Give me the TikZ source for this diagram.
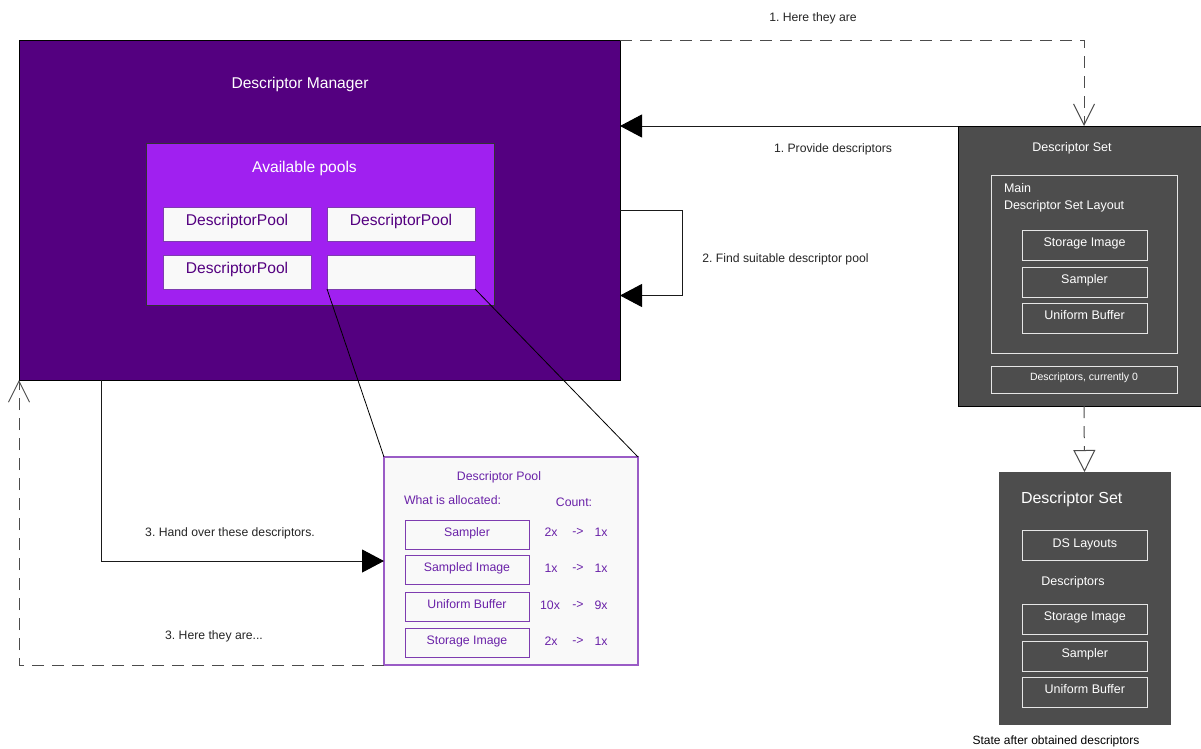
\documentclass[tikz,border=0pt]{standalone}
\usepackage{fontspec}
\setmainfont{Liberation Sans}
\usetikzlibrary{arrows.meta,calc}
\definecolor{mgrfill}{HTML}{540080}
\definecolor{poolsfill}{HTML}{A020F0}
\definecolor{boxfill}{HTML}{F9F9F9}
\definecolor{ptext}{HTML}{540080}
\definecolor{dtext}{HTML}{6A22A8}
\definecolor{dborder}{HTML}{9A5CC6}
\definecolor{dinner}{HTML}{7E3CB0}
\definecolor{setfill}{HTML}{4D4D4D}
\definecolor{setline}{HTML}{E6E6E6}
\definecolor{lnk}{HTML}{1A1A1A}
\newcommand\fsz[1]{\fontsize{#1}{#1}\selectfont}
\frenchspacing
\begin{document}
\begin{tikzpicture}[x=1pt,y=-1pt,
  every node/.style={inner sep=0pt,outer sep=0pt},
  box/.style={draw,rectangle,inner sep=0pt},
  wt/.style={text=white},
  lbl/.style={font=\fsz{12.2},text=black!85},
  pbox/.style={box,fill=boxfill,draw=dinner,line width=0.8pt,minimum width=148pt,minimum height=34pt,
     text=ptext,font=\fsz{15.6},text height=11pt,text depth=8pt},
  dbox/.style={box,draw=dinner,line width=1pt,minimum width=124pt,minimum height=29pt,
     text=dtext,font=\fsz{12.3},text height=9pt,text depth=6pt},
  dt/.style={text=dtext,font=\fsz{12.3}},
  sbox/.style={box,draw=setline,line width=0.9pt,minimum width=125pt,minimum height=30pt,
     text=white,font=\fsz{12.5},text height=9pt,text depth=6pt},
  conn/.style={draw=lnk,line width=1pt},
  dconn/.style={draw=black!70,line width=1pt,dash pattern=on 12pt off 8pt},
  fullhead/.style={-{Triangle[length=22pt,width=23pt,color=black]}},
  vhead/.style={-{Straight Barb[length=21pt,width=21pt,line width=1pt]}}
]
\useasboundingbox (0,0) rectangle (1201,748);
\fill[white] (0,0) rectangle (1201,748);

% Descriptor Manager
\node[box,fill=mgrfill,draw=black,line width=1pt,minimum width=601pt,minimum height=340pt] (mgr) at (319.5,210) {};
\node[wt,font=\fsz{15.6}] (mgrlabel) at (300,84) {Descriptor Manager};
\node[box,fill=poolsfill,draw=black!80,line width=1pt,minimum width=348pt,minimum height=162pt] (pools) at (320,224) {};
\node[wt,font=\fsz{15.6}] (poolslabel) at (304.5,168) {Available pools};
\node[pbox] (p1) at (237,224) {DescriptorPool};
\node[pbox] (p2) at (401,224) {DescriptorPool};
\node[pbox] (p3) at (237,272) {DescriptorPool};
\node[pbox] (p4) at (401,272) {};

% Descriptor Pool detail
\node[box,fill=boxfill,draw=dborder,line width=1.5pt,minimum width=254pt,minimum height=208pt] (pool) at (511,561) {};
\node[dt] (pooltitle) at (499,477) {Descriptor Pool};
\node[dt,anchor=west] (alloc) at (404,500) {What is allocated:};
\node[dt] (count) at (574,502) {Count:};
\node[dbox] (d1) at (467,534.5) {Sampler};
\node[dbox] (d2) at (467,570) {Sampled Image};
\node[dbox] (d3) at (467,606.5) {Uniform Buffer};
\node[dbox] (d4) at (467,642.5) {Storage Image};
\node[dt] (c1a) at (551,532) {2x};  \node[dt] (c1b) at (578,532) {->}; \node[dt] (c1c) at (601,532) {1x};
\node[dt] (c2a) at (551,568) {1x};  \node[dt] (c2b) at (578,568) {->}; \node[dt] (c2c) at (601,568) {1x};
\node[dt] (c3a) at (550,605) {10x}; \node[dt] (c3b) at (578,605) {->}; \node[dt] (c3c) at (601,605) {9x};
\node[dt] (c4a) at (551,641) {2x};  \node[dt] (c4b) at (578,641) {->}; \node[dt] (c4c) at (601,641) {1x};

% zoom lines
\draw[black,line width=0.8pt] (p4.south west) -- (pool.north west);
\draw[black,line width=0.8pt] (p4.south east) -- (pool.north east);

% Descriptor Set (top)
\node[box,fill=setfill,draw=black,line width=1pt,minimum width=252pt,minimum height=280pt] (set) at (1084,266) {};
\node[wt,font=\fsz{12.5}] (settitle) at (1072,148) {Descriptor Set};
\node[box,draw=setline,line width=0.9pt,minimum width=186pt,minimum height=178pt] (layout) at (1084,264) {};
\node[wt,font=\fsz{12.5},anchor=west] (mainl) at (1004,188) {Main};
\node[wt,font=\fsz{12.5},anchor=west] (dsl) at (1004,206) {Descriptor Set Layout};
\node[sbox] (s1) at (1084.5,245) {Storage Image};
\node[sbox] (s2) at (1084.5,282) {Sampler};
\node[sbox] (s3) at (1084.5,318) {Uniform Buffer};
\node[box,draw=setline,line width=0.9pt,minimum width=186pt,minimum height=27pt,text=white,font=\fsz{10.5},text height=7.5pt,text depth=5pt] (cur) at (1084,379.5) {Descriptors, currently 0};

% Descriptor Set (bottom)
\node[box,fill=setfill,draw=setfill,minimum width=171pt,minimum height=252pt] (set2) at (1084.5,598) {};
\node[wt,font=\fsz{16},anchor=west] (set2title) at (1021,499) {Descriptor Set};
\node[sbox] (b1) at (1084.8,545.7) {DS Layouts};
\node[wt,font=\fsz{12.5}] (descl) at (1073,582) {Descriptors};
\node[sbox] (b2) at (1084.8,619) {Storage Image};
\node[sbox] (b3) at (1084.8,656) {Sampler};
\node[sbox] (b4) at (1084.8,692) {Uniform Buffer};
\node[font=\fsz{12},anchor=base] (state) at (1056,744.5) {State after obtained descriptors};

% connectors
\draw[conn,fullhead] (set.north west) -- (set.north west -| mgr.east);
\draw[dconn,vhead] (mgr.north east) -| (set.north);
\coordinate (loopin) at ($(mgr.east)+(0,85.5)$);
\draw[conn,fullhead] (mgr.east) -- ++(62,0) |- (loopin);
\coordinate (hstart) at ($(mgr.south west)+(82,0)$);
\draw[conn,fullhead] (hstart) |- (pool.west);
\draw[dconn,vhead] (pool.south west) -| (mgr.south west);
\draw[dconn,-{Triangle[open,length=22pt,width=22pt,line width=1pt]}] (set.south) -- (set2.north);

% edge labels
\node[lbl] (l1) at (813,18) {1. Here they are};
\node[lbl] (l2) at (833,149) {1. Provide descriptors};
\node[lbl] (l3) at (785.5,259) {2. Find suitable descriptor pool};
\node[lbl] (l4) at (230,533) {3. Hand over these descriptors.};
\node[lbl] (l5) at (214,636) {3. Here they are...};
\end{tikzpicture}
\end{document}
